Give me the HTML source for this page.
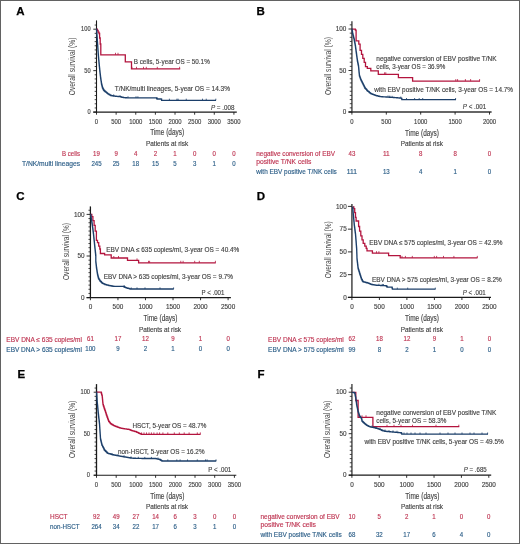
<!DOCTYPE html>
<html><head><meta charset="utf-8"><style>
html,body{margin:0;padding:0;background:#fff;}
svg{display:block;font-family:"Liberation Sans", sans-serif;will-change:transform;}
</style></head><body>
<svg width="520" height="544" viewBox="0 0 520 544" fill="#444444">
<rect x="0" y="0" width="520" height="544" fill="#fff"/>
<text x="16.20" y="14.66" font-size="11.5" fill="#000" font-weight="bold" stroke="#000" stroke-width="0.25">A</text>
<line x1="96.50" y1="20.40" x2="96.50" y2="112.60" stroke="#1a1a1a" stroke-width="1.1"/>
<line x1="93.30" y1="112.10" x2="236.80" y2="112.10" stroke="#1a1a1a" stroke-width="1.1"/>
<line x1="93.30" y1="112.10" x2="96.50" y2="112.10" stroke="#1a1a1a" stroke-width="0.9"/>
<line x1="93.30" y1="70.65" x2="96.50" y2="70.65" stroke="#1a1a1a" stroke-width="0.9"/>
<line x1="93.30" y1="29.20" x2="96.50" y2="29.20" stroke="#1a1a1a" stroke-width="0.9"/>
<line x1="94.65" y1="107.95" x2="96.50" y2="107.95" stroke="#1a1a1a" stroke-width="0.8"/>
<line x1="94.65" y1="103.81" x2="96.50" y2="103.81" stroke="#1a1a1a" stroke-width="0.8"/>
<line x1="94.65" y1="99.66" x2="96.50" y2="99.66" stroke="#1a1a1a" stroke-width="0.8"/>
<line x1="94.65" y1="95.52" x2="96.50" y2="95.52" stroke="#1a1a1a" stroke-width="0.8"/>
<line x1="94.65" y1="91.38" x2="96.50" y2="91.38" stroke="#1a1a1a" stroke-width="0.8"/>
<line x1="94.65" y1="87.23" x2="96.50" y2="87.23" stroke="#1a1a1a" stroke-width="0.8"/>
<line x1="94.65" y1="83.08" x2="96.50" y2="83.08" stroke="#1a1a1a" stroke-width="0.8"/>
<line x1="94.65" y1="78.94" x2="96.50" y2="78.94" stroke="#1a1a1a" stroke-width="0.8"/>
<line x1="94.65" y1="74.80" x2="96.50" y2="74.80" stroke="#1a1a1a" stroke-width="0.8"/>
<line x1="94.65" y1="66.50" x2="96.50" y2="66.50" stroke="#1a1a1a" stroke-width="0.8"/>
<line x1="94.65" y1="62.36" x2="96.50" y2="62.36" stroke="#1a1a1a" stroke-width="0.8"/>
<line x1="94.65" y1="58.22" x2="96.50" y2="58.22" stroke="#1a1a1a" stroke-width="0.8"/>
<line x1="94.65" y1="54.07" x2="96.50" y2="54.07" stroke="#1a1a1a" stroke-width="0.8"/>
<line x1="94.65" y1="49.93" x2="96.50" y2="49.93" stroke="#1a1a1a" stroke-width="0.8"/>
<line x1="94.65" y1="45.78" x2="96.50" y2="45.78" stroke="#1a1a1a" stroke-width="0.8"/>
<line x1="94.65" y1="41.64" x2="96.50" y2="41.64" stroke="#1a1a1a" stroke-width="0.8"/>
<line x1="94.65" y1="37.49" x2="96.50" y2="37.49" stroke="#1a1a1a" stroke-width="0.8"/>
<line x1="94.65" y1="33.34" x2="96.50" y2="33.34" stroke="#1a1a1a" stroke-width="0.8"/>
<line x1="94.65" y1="25.05" x2="96.50" y2="25.05" stroke="#1a1a1a" stroke-width="0.8"/>
<line x1="96.50" y1="112.10" x2="96.50" y2="114.70" stroke="#1a1a1a" stroke-width="0.9"/>
<line x1="116.13" y1="112.10" x2="116.13" y2="114.70" stroke="#1a1a1a" stroke-width="0.9"/>
<line x1="135.76" y1="112.10" x2="135.76" y2="114.70" stroke="#1a1a1a" stroke-width="0.9"/>
<line x1="155.39" y1="112.10" x2="155.39" y2="114.70" stroke="#1a1a1a" stroke-width="0.9"/>
<line x1="175.02" y1="112.10" x2="175.02" y2="114.70" stroke="#1a1a1a" stroke-width="0.9"/>
<line x1="194.65" y1="112.10" x2="194.65" y2="114.70" stroke="#1a1a1a" stroke-width="0.9"/>
<line x1="214.28" y1="112.10" x2="214.28" y2="114.70" stroke="#1a1a1a" stroke-width="0.9"/>
<line x1="233.91" y1="112.10" x2="233.91" y2="114.70" stroke="#1a1a1a" stroke-width="0.9"/>
<text x="90.60" y="114.30" font-size="6.4" text-anchor="end" stroke="#444444" stroke-width="0.15" textLength="3.17" lengthAdjust="spacingAndGlyphs">0</text>
<text x="90.60" y="72.85" font-size="6.4" text-anchor="end" stroke="#444444" stroke-width="0.15" textLength="6.34" lengthAdjust="spacingAndGlyphs">50</text>
<text x="90.60" y="31.40" font-size="6.4" text-anchor="end" stroke="#444444" stroke-width="0.15" textLength="9.51" lengthAdjust="spacingAndGlyphs">100</text>
<text x="96.50" y="123.50" font-size="6.4" text-anchor="middle" stroke="#444444" stroke-width="0.15" textLength="3.30" lengthAdjust="spacingAndGlyphs">0</text>
<text x="116.13" y="123.50" font-size="6.4" text-anchor="middle" stroke="#444444" stroke-width="0.15" textLength="9.90" lengthAdjust="spacingAndGlyphs">500</text>
<text x="135.76" y="123.50" font-size="6.4" text-anchor="middle" stroke="#444444" stroke-width="0.15" textLength="13.20" lengthAdjust="spacingAndGlyphs">1000</text>
<text x="155.39" y="123.50" font-size="6.4" text-anchor="middle" stroke="#444444" stroke-width="0.15" textLength="13.20" lengthAdjust="spacingAndGlyphs">1500</text>
<text x="175.02" y="123.50" font-size="6.4" text-anchor="middle" stroke="#444444" stroke-width="0.15" textLength="13.20" lengthAdjust="spacingAndGlyphs">2000</text>
<text x="194.65" y="123.50" font-size="6.4" text-anchor="middle" stroke="#444444" stroke-width="0.15" textLength="13.20" lengthAdjust="spacingAndGlyphs">2500</text>
<text x="214.28" y="123.50" font-size="6.4" text-anchor="middle" stroke="#444444" stroke-width="0.15" textLength="13.20" lengthAdjust="spacingAndGlyphs">3000</text>
<text x="233.91" y="123.50" font-size="6.4" text-anchor="middle" stroke="#444444" stroke-width="0.15" textLength="13.20" lengthAdjust="spacingAndGlyphs">3500</text>
<text transform="translate(75.00,66.40) rotate(-90)" x="0" y="0" font-size="9.2" text-anchor="middle" textLength="57.60" lengthAdjust="spacingAndGlyphs">Overall survival (%)</text>
<path d="M96.50,29.20H97.30V30.50H98.10V32.20H99.00V33.50H99.60V38.00H100.20V44.00H100.80V54.80H125.30V61.90H131.50V68.80H180.20V68.80" fill="none" stroke="#b3143e" stroke-width="1.3" stroke-linejoin="miter"/>
<line x1="115.50" y1="54.80" x2="115.50" y2="52.80" stroke="#b3143e" stroke-width="0.8"/>
<line x1="118.00" y1="54.80" x2="118.00" y2="52.80" stroke="#b3143e" stroke-width="0.8"/>
<line x1="131.90" y1="68.80" x2="131.90" y2="66.80" stroke="#b3143e" stroke-width="0.8"/>
<line x1="136.50" y1="68.80" x2="136.50" y2="66.80" stroke="#b3143e" stroke-width="0.8"/>
<line x1="143.50" y1="68.80" x2="143.50" y2="66.80" stroke="#b3143e" stroke-width="0.8"/>
<line x1="146.30" y1="68.80" x2="146.30" y2="66.80" stroke="#b3143e" stroke-width="0.8"/>
<line x1="157.30" y1="68.80" x2="157.30" y2="66.80" stroke="#b3143e" stroke-width="0.8"/>
<line x1="179.60" y1="68.80" x2="179.60" y2="66.80" stroke="#b3143e" stroke-width="0.8"/>
<path d="M96.50,29.20H96.58V30.33H96.67V31.47H96.75V32.60H96.83V33.73H96.92V34.87H97.00V36.00H97.08V37.12H97.15V38.25H97.22V39.38H97.30V40.50H97.38V41.62H97.45V42.75H97.52V43.88H97.60V45.00H97.68V46.11H97.76V47.22H97.83V48.33H97.91V49.44H97.99V50.56H98.07V51.67H98.14V52.78H98.22V53.89H98.30V55.00H98.40V56.14H98.50V57.29H98.60V58.43H98.70V59.57H98.80V60.71H98.90V61.86H99.00V63.00H99.11V64.14H99.23V65.29H99.34V66.43H99.46V67.57H99.57V68.71H99.69V69.86H99.80V71.00H99.93V72.17H100.07V73.33H100.20V74.50H100.33V75.67H100.47V76.83H100.60V78.00H100.78V79.20H100.96V80.40H101.14V81.60H101.32V82.80H101.50V84.00H101.75V85.00H102.00V86.00H102.25V87.00H102.50V88.00H103.00V89.00H103.50V90.00H104.00V90.50H104.50V91.00H105.00V91.50H105.58V91.96H106.16V92.42H106.74V92.88H107.32V93.34H107.90V93.80H108.48V94.14H109.06V94.48H109.64V94.82H110.22V95.16H110.80V95.50H111.48V95.62H112.16V95.74H112.84V95.86H113.52V95.98H114.20V96.10H114.84V96.17H115.49V96.23H116.13V96.30H116.78V96.37H117.42V96.43H118.07V96.50H118.71V96.57H119.36V96.63H120.00V96.70H120.70V96.88H121.40V97.06H122.10V97.24H122.80V97.42H123.50V97.60H124.14V97.64H124.79V97.69H125.43V97.73H126.07V97.77H126.71V97.81H127.36V97.86H128.00V97.90H156.20V97.90H156.60V98.45H157.00V99.00H161.00V99.20H161.60V100.30H216.00V100.30" fill="none" stroke="#1c3f6a" stroke-width="1.3" stroke-linejoin="miter"/>
<line x1="113.70" y1="95.98" x2="113.70" y2="94.38" stroke="#1c3f6a" stroke-width="0.8"/>
<line x1="120.00" y1="96.70" x2="120.00" y2="95.10" stroke="#1c3f6a" stroke-width="0.8"/>
<line x1="128.00" y1="97.90" x2="128.00" y2="96.30" stroke="#1c3f6a" stroke-width="0.8"/>
<line x1="136.00" y1="97.90" x2="136.00" y2="96.30" stroke="#1c3f6a" stroke-width="0.8"/>
<line x1="137.90" y1="97.90" x2="137.90" y2="96.30" stroke="#1c3f6a" stroke-width="0.8"/>
<line x1="157.00" y1="99.00" x2="157.00" y2="97.40" stroke="#1c3f6a" stroke-width="0.8"/>
<line x1="169.40" y1="100.30" x2="169.40" y2="98.70" stroke="#1c3f6a" stroke-width="0.8"/>
<line x1="176.90" y1="100.30" x2="176.90" y2="98.70" stroke="#1c3f6a" stroke-width="0.8"/>
<line x1="178.10" y1="100.30" x2="178.10" y2="98.70" stroke="#1c3f6a" stroke-width="0.8"/>
<line x1="186.25" y1="100.30" x2="186.25" y2="98.70" stroke="#1c3f6a" stroke-width="0.8"/>
<line x1="202.50" y1="100.30" x2="202.50" y2="98.70" stroke="#1c3f6a" stroke-width="0.8"/>
<line x1="206.25" y1="100.30" x2="206.25" y2="98.70" stroke="#1c3f6a" stroke-width="0.8"/>
<line x1="215.80" y1="100.30" x2="215.80" y2="98.70" stroke="#1c3f6a" stroke-width="0.8"/>
<text x="133.75" y="64.24" font-size="6.5" stroke="#444444" stroke-width="0.15" textLength="76.00" lengthAdjust="spacingAndGlyphs">B cells, 5-year OS = 50.1%</text>
<text x="114.80" y="91.44" font-size="6.5" stroke="#444444" stroke-width="0.15" textLength="115.20" lengthAdjust="spacingAndGlyphs">T/NK/multi lineages, 5-year OS = 14.3%</text>
<text x="234.40" y="109.50" font-size="6.4" text-anchor="end" stroke="#444444" stroke-width="0.15" textLength="23.50" lengthAdjust="spacingAndGlyphs"><tspan font-style="italic">P</tspan> = .008</text>
<text x="167.20" y="135.46" font-size="8.6" text-anchor="middle" stroke="#444444" stroke-width="0.15" textLength="34.00" lengthAdjust="spacingAndGlyphs">Time (days)</text>
<text x="167.10" y="145.94" font-size="6.8" text-anchor="middle" stroke="#444444" stroke-width="0.15" textLength="42.20" lengthAdjust="spacingAndGlyphs">Patients at risk</text>
<text x="80.00" y="155.94" font-size="6.5" text-anchor="end" fill="#bf3653" stroke="#bf3653" stroke-width="0.15" textLength="18.00" lengthAdjust="spacingAndGlyphs">B cells</text>
<text x="80.00" y="165.94" font-size="6.5" text-anchor="end" fill="#2d5f88" stroke="#2d5f88" stroke-width="0.15" textLength="58.00" lengthAdjust="spacingAndGlyphs">T/NK/multi lineages</text>
<text x="96.50" y="155.87" font-size="6.3" text-anchor="middle" fill="#bf3653" stroke="#bf3653" stroke-width="0.15" textLength="6.80" lengthAdjust="spacingAndGlyphs">19</text>
<text x="116.13" y="155.87" font-size="6.3" text-anchor="middle" fill="#bf3653" stroke="#bf3653" stroke-width="0.15" textLength="3.40" lengthAdjust="spacingAndGlyphs">9</text>
<text x="135.76" y="155.87" font-size="6.3" text-anchor="middle" fill="#bf3653" stroke="#bf3653" stroke-width="0.15" textLength="3.40" lengthAdjust="spacingAndGlyphs">4</text>
<text x="155.39" y="155.87" font-size="6.3" text-anchor="middle" fill="#bf3653" stroke="#bf3653" stroke-width="0.15" textLength="3.40" lengthAdjust="spacingAndGlyphs">2</text>
<text x="175.02" y="155.87" font-size="6.3" text-anchor="middle" fill="#bf3653" stroke="#bf3653" stroke-width="0.15" textLength="3.40" lengthAdjust="spacingAndGlyphs">1</text>
<text x="194.65" y="155.87" font-size="6.3" text-anchor="middle" fill="#bf3653" stroke="#bf3653" stroke-width="0.15" textLength="3.40" lengthAdjust="spacingAndGlyphs">0</text>
<text x="214.28" y="155.87" font-size="6.3" text-anchor="middle" fill="#bf3653" stroke="#bf3653" stroke-width="0.15" textLength="3.40" lengthAdjust="spacingAndGlyphs">0</text>
<text x="233.91" y="155.87" font-size="6.3" text-anchor="middle" fill="#bf3653" stroke="#bf3653" stroke-width="0.15" textLength="3.40" lengthAdjust="spacingAndGlyphs">0</text>
<text x="96.50" y="165.87" font-size="6.3" text-anchor="middle" fill="#2d5f88" stroke="#2d5f88" stroke-width="0.15" textLength="10.20" lengthAdjust="spacingAndGlyphs">245</text>
<text x="116.13" y="165.87" font-size="6.3" text-anchor="middle" fill="#2d5f88" stroke="#2d5f88" stroke-width="0.15" textLength="6.80" lengthAdjust="spacingAndGlyphs">25</text>
<text x="135.76" y="165.87" font-size="6.3" text-anchor="middle" fill="#2d5f88" stroke="#2d5f88" stroke-width="0.15" textLength="6.80" lengthAdjust="spacingAndGlyphs">18</text>
<text x="155.39" y="165.87" font-size="6.3" text-anchor="middle" fill="#2d5f88" stroke="#2d5f88" stroke-width="0.15" textLength="6.80" lengthAdjust="spacingAndGlyphs">15</text>
<text x="175.02" y="165.87" font-size="6.3" text-anchor="middle" fill="#2d5f88" stroke="#2d5f88" stroke-width="0.15" textLength="3.40" lengthAdjust="spacingAndGlyphs">5</text>
<text x="194.65" y="165.87" font-size="6.3" text-anchor="middle" fill="#2d5f88" stroke="#2d5f88" stroke-width="0.15" textLength="3.40" lengthAdjust="spacingAndGlyphs">3</text>
<text x="214.28" y="165.87" font-size="6.3" text-anchor="middle" fill="#2d5f88" stroke="#2d5f88" stroke-width="0.15" textLength="3.40" lengthAdjust="spacingAndGlyphs">1</text>
<text x="233.91" y="165.87" font-size="6.3" text-anchor="middle" fill="#2d5f88" stroke="#2d5f88" stroke-width="0.15" textLength="3.40" lengthAdjust="spacingAndGlyphs">0</text>
<text x="256.60" y="14.51" font-size="11.5" fill="#000" font-weight="bold" stroke="#000" stroke-width="0.25">B</text>
<line x1="351.90" y1="21.20" x2="351.90" y2="112.50" stroke="#666" stroke-width="1.7"/>
<line x1="348.50" y1="112.00" x2="491.60" y2="112.00" stroke="#333" stroke-width="1.6"/>
<line x1="348.50" y1="112.00" x2="351.90" y2="112.00" stroke="#1a1a1a" stroke-width="0.9"/>
<line x1="348.50" y1="70.50" x2="351.90" y2="70.50" stroke="#1a1a1a" stroke-width="0.9"/>
<line x1="348.50" y1="29.00" x2="351.90" y2="29.00" stroke="#1a1a1a" stroke-width="0.9"/>
<line x1="349.75" y1="107.85" x2="351.90" y2="107.85" stroke="#1a1a1a" stroke-width="0.8"/>
<line x1="349.75" y1="103.70" x2="351.90" y2="103.70" stroke="#1a1a1a" stroke-width="0.8"/>
<line x1="349.75" y1="99.55" x2="351.90" y2="99.55" stroke="#1a1a1a" stroke-width="0.8"/>
<line x1="349.75" y1="95.40" x2="351.90" y2="95.40" stroke="#1a1a1a" stroke-width="0.8"/>
<line x1="349.75" y1="91.25" x2="351.90" y2="91.25" stroke="#1a1a1a" stroke-width="0.8"/>
<line x1="349.75" y1="87.10" x2="351.90" y2="87.10" stroke="#1a1a1a" stroke-width="0.8"/>
<line x1="349.75" y1="82.95" x2="351.90" y2="82.95" stroke="#1a1a1a" stroke-width="0.8"/>
<line x1="349.75" y1="78.80" x2="351.90" y2="78.80" stroke="#1a1a1a" stroke-width="0.8"/>
<line x1="349.75" y1="74.65" x2="351.90" y2="74.65" stroke="#1a1a1a" stroke-width="0.8"/>
<line x1="349.75" y1="66.35" x2="351.90" y2="66.35" stroke="#1a1a1a" stroke-width="0.8"/>
<line x1="349.75" y1="62.20" x2="351.90" y2="62.20" stroke="#1a1a1a" stroke-width="0.8"/>
<line x1="349.75" y1="58.05" x2="351.90" y2="58.05" stroke="#1a1a1a" stroke-width="0.8"/>
<line x1="349.75" y1="53.90" x2="351.90" y2="53.90" stroke="#1a1a1a" stroke-width="0.8"/>
<line x1="349.75" y1="49.75" x2="351.90" y2="49.75" stroke="#1a1a1a" stroke-width="0.8"/>
<line x1="349.75" y1="45.60" x2="351.90" y2="45.60" stroke="#1a1a1a" stroke-width="0.8"/>
<line x1="349.75" y1="41.45" x2="351.90" y2="41.45" stroke="#1a1a1a" stroke-width="0.8"/>
<line x1="349.75" y1="37.30" x2="351.90" y2="37.30" stroke="#1a1a1a" stroke-width="0.8"/>
<line x1="349.75" y1="33.15" x2="351.90" y2="33.15" stroke="#1a1a1a" stroke-width="0.8"/>
<line x1="349.75" y1="24.85" x2="351.90" y2="24.85" stroke="#1a1a1a" stroke-width="0.8"/>
<line x1="351.90" y1="112.00" x2="351.90" y2="114.60" stroke="#1a1a1a" stroke-width="0.9"/>
<line x1="386.30" y1="112.00" x2="386.30" y2="114.60" stroke="#1a1a1a" stroke-width="0.9"/>
<line x1="420.70" y1="112.00" x2="420.70" y2="114.60" stroke="#1a1a1a" stroke-width="0.9"/>
<line x1="455.10" y1="112.00" x2="455.10" y2="114.60" stroke="#1a1a1a" stroke-width="0.9"/>
<line x1="489.50" y1="112.00" x2="489.50" y2="114.60" stroke="#1a1a1a" stroke-width="0.9"/>
<text x="346.40" y="114.20" font-size="6.4" text-anchor="end" stroke="#444444" stroke-width="0.15" textLength="3.55" lengthAdjust="spacingAndGlyphs">0</text>
<text x="346.40" y="72.70" font-size="6.4" text-anchor="end" stroke="#444444" stroke-width="0.15" textLength="7.10" lengthAdjust="spacingAndGlyphs">50</text>
<text x="346.40" y="31.20" font-size="6.4" text-anchor="end" stroke="#444444" stroke-width="0.15" textLength="10.65" lengthAdjust="spacingAndGlyphs">100</text>
<text x="351.90" y="123.70" font-size="6.4" text-anchor="middle" stroke="#444444" stroke-width="0.15" textLength="3.30" lengthAdjust="spacingAndGlyphs">0</text>
<text x="386.30" y="123.70" font-size="6.4" text-anchor="middle" stroke="#444444" stroke-width="0.15" textLength="9.90" lengthAdjust="spacingAndGlyphs">500</text>
<text x="420.70" y="123.70" font-size="6.4" text-anchor="middle" stroke="#444444" stroke-width="0.15" textLength="13.20" lengthAdjust="spacingAndGlyphs">1000</text>
<text x="455.10" y="123.70" font-size="6.4" text-anchor="middle" stroke="#444444" stroke-width="0.15" textLength="13.20" lengthAdjust="spacingAndGlyphs">1500</text>
<text x="489.50" y="123.70" font-size="6.4" text-anchor="middle" stroke="#444444" stroke-width="0.15" textLength="13.20" lengthAdjust="spacingAndGlyphs">2000</text>
<text transform="translate(331.00,66.00) rotate(-90)" x="0" y="0" font-size="9.2" text-anchor="middle" textLength="58.00" lengthAdjust="spacingAndGlyphs">Overall survival (%)</text>
<path d="M352.00,29.20H355.40V30.10H356.10V40.80H358.80V44.20H360.10V50.30H361.50V54.30H362.80V58.30H364.20V62.40H365.50V66.60H367.30V68.30H370.80V70.80H378.30V74.30H398.40V77.60H412.60V81.10H480.00V81.10" fill="none" stroke="#b3143e" stroke-width="1.3" stroke-linejoin="miter"/>
<line x1="384.60" y1="74.30" x2="384.60" y2="72.30" stroke="#b3143e" stroke-width="0.8"/>
<line x1="385.80" y1="74.30" x2="385.80" y2="72.30" stroke="#b3143e" stroke-width="0.8"/>
<line x1="455.80" y1="81.10" x2="455.80" y2="79.10" stroke="#b3143e" stroke-width="0.8"/>
<line x1="457.60" y1="81.10" x2="457.60" y2="79.10" stroke="#b3143e" stroke-width="0.8"/>
<line x1="465.40" y1="81.10" x2="465.40" y2="79.10" stroke="#b3143e" stroke-width="0.8"/>
<line x1="470.60" y1="81.10" x2="470.60" y2="79.10" stroke="#b3143e" stroke-width="0.8"/>
<line x1="479.60" y1="81.10" x2="479.60" y2="79.10" stroke="#b3143e" stroke-width="0.8"/>
<path d="M352.00,29.20H352.14V30.16H352.28V31.12H352.42V32.08H352.56V33.04H352.70V34.00H352.98V35.10H353.26V36.20H353.54V37.30H353.82V38.40H354.10V39.50H354.32V40.62H354.53V41.73H354.75V42.85H354.97V43.97H355.18V45.08H355.40V46.20H355.54V47.28H355.68V48.36H355.82V49.44H355.96V50.52H356.10V51.60H356.26V52.77H356.43V53.95H356.59V55.12H356.75V56.30H356.91V57.48H357.07V58.65H357.24V59.83H357.40V61.00H357.62V62.08H357.84V63.16H358.06V64.24H358.28V65.32H358.50V66.40H358.61V67.58H358.73V68.75H358.84V69.92H358.95V71.10H359.06V72.28H359.17V73.45H359.29V74.62H359.40V75.80H359.75V76.83H360.10V77.85H360.45V78.88H360.80V79.90H361.30V80.90H361.80V81.90H362.30V82.90H362.80V83.90H363.30V84.93H363.80V85.95H364.30V86.97H364.80V88.00H365.43V88.70H366.05V89.40H366.68V90.10H367.30V90.80H368.00V91.38H368.70V91.96H369.40V92.54H370.10V93.12H370.80V93.70H371.46V93.94H372.11V94.19H372.77V94.43H373.43V94.67H374.09V94.91H374.74V95.16H375.40V95.40H376.06V95.57H376.71V95.74H377.37V95.91H378.03V96.09H378.69V96.26H379.34V96.43H380.00V96.60H380.67V96.65H381.34V96.69H382.01V96.74H382.68V96.78H383.35V96.83H384.02V96.88H384.70V96.92H385.37V96.97H386.04V97.01H386.71V97.06H387.38V97.10H388.05V97.15H388.72V97.20H389.39V97.24H390.06V97.29H390.73V97.33H391.40V97.38H392.08V97.42H392.75V97.47H393.42V97.52H394.09V97.56H394.76V97.61H395.43V97.65H396.10V97.70H396.75V97.76H397.40V97.83H398.05V97.89H398.70V97.95H399.35V98.01H400.00V98.08H400.65V98.14H401.30V98.20H401.60V98.90H401.90V99.60H456.00V99.60" fill="none" stroke="#1c3f6a" stroke-width="1.3" stroke-linejoin="miter"/>
<line x1="388.00" y1="97.10" x2="388.00" y2="95.50" stroke="#1c3f6a" stroke-width="0.8"/>
<line x1="389.80" y1="97.24" x2="389.80" y2="95.64" stroke="#1c3f6a" stroke-width="0.8"/>
<line x1="392.10" y1="97.42" x2="392.10" y2="95.83" stroke="#1c3f6a" stroke-width="0.8"/>
<line x1="400.80" y1="98.14" x2="400.80" y2="96.54" stroke="#1c3f6a" stroke-width="0.8"/>
<line x1="406.50" y1="99.60" x2="406.50" y2="98.00" stroke="#1c3f6a" stroke-width="0.8"/>
<line x1="414.60" y1="99.60" x2="414.60" y2="98.00" stroke="#1c3f6a" stroke-width="0.8"/>
<line x1="419.20" y1="99.60" x2="419.20" y2="98.00" stroke="#1c3f6a" stroke-width="0.8"/>
<line x1="422.70" y1="99.60" x2="422.70" y2="98.00" stroke="#1c3f6a" stroke-width="0.8"/>
<line x1="455.60" y1="99.60" x2="455.60" y2="98.00" stroke="#1c3f6a" stroke-width="0.8"/>
<text x="376.30" y="60.54" font-size="6.5" stroke="#444444" stroke-width="0.15" textLength="120.20" lengthAdjust="spacingAndGlyphs">negative conversion of EBV positive T/NK</text>
<text x="376.30" y="68.54" font-size="6.5" stroke="#444444" stroke-width="0.15" textLength="69.00" lengthAdjust="spacingAndGlyphs">cells, 3-year OS = 36.9%</text>
<text x="374.30" y="91.74" font-size="6.5" stroke="#444444" stroke-width="0.15" textLength="138.70" lengthAdjust="spacingAndGlyphs">with EBV positive T/NK cells, 3-year OS = 14.7%</text>
<text x="486.10" y="109.40" font-size="6.4" text-anchor="end" stroke="#444444" stroke-width="0.15" textLength="23.30" lengthAdjust="spacingAndGlyphs"><tspan font-style="italic">P</tspan> &lt; .001</text>
<text x="422.00" y="135.56" font-size="8.6" text-anchor="middle" stroke="#444444" stroke-width="0.15" textLength="34.00" lengthAdjust="spacingAndGlyphs">Time (days)</text>
<text x="421.80" y="145.94" font-size="6.8" text-anchor="middle" stroke="#444444" stroke-width="0.15" textLength="42.20" lengthAdjust="spacingAndGlyphs">Patients at risk</text>
<text x="256.30" y="156.24" font-size="6.5" fill="#bf3653" stroke="#bf3653" stroke-width="0.15" textLength="78.70" lengthAdjust="spacingAndGlyphs">negative conversion of EBV</text>
<text x="256.30" y="164.24" font-size="6.5" fill="#bf3653" stroke="#bf3653" stroke-width="0.15" textLength="55.00" lengthAdjust="spacingAndGlyphs">positive T/NK cells</text>
<text x="256.30" y="174.04" font-size="6.5" fill="#2d5f88" stroke="#2d5f88" stroke-width="0.15" textLength="80.50" lengthAdjust="spacingAndGlyphs">with EBV positive T/NK cells</text>
<text x="351.90" y="155.97" font-size="6.3" text-anchor="middle" fill="#bf3653" stroke="#bf3653" stroke-width="0.15" textLength="6.80" lengthAdjust="spacingAndGlyphs">43</text>
<text x="386.30" y="155.97" font-size="6.3" text-anchor="middle" fill="#bf3653" stroke="#bf3653" stroke-width="0.15" textLength="6.80" lengthAdjust="spacingAndGlyphs">11</text>
<text x="420.70" y="155.97" font-size="6.3" text-anchor="middle" fill="#bf3653" stroke="#bf3653" stroke-width="0.15" textLength="3.40" lengthAdjust="spacingAndGlyphs">8</text>
<text x="455.10" y="155.97" font-size="6.3" text-anchor="middle" fill="#bf3653" stroke="#bf3653" stroke-width="0.15" textLength="3.40" lengthAdjust="spacingAndGlyphs">8</text>
<text x="489.50" y="155.97" font-size="6.3" text-anchor="middle" fill="#bf3653" stroke="#bf3653" stroke-width="0.15" textLength="3.40" lengthAdjust="spacingAndGlyphs">0</text>
<text x="351.90" y="173.97" font-size="6.3" text-anchor="middle" fill="#2d5f88" stroke="#2d5f88" stroke-width="0.15" textLength="10.20" lengthAdjust="spacingAndGlyphs">111</text>
<text x="386.30" y="173.97" font-size="6.3" text-anchor="middle" fill="#2d5f88" stroke="#2d5f88" stroke-width="0.15" textLength="6.80" lengthAdjust="spacingAndGlyphs">13</text>
<text x="420.70" y="173.97" font-size="6.3" text-anchor="middle" fill="#2d5f88" stroke="#2d5f88" stroke-width="0.15" textLength="3.40" lengthAdjust="spacingAndGlyphs">4</text>
<text x="455.10" y="173.97" font-size="6.3" text-anchor="middle" fill="#2d5f88" stroke="#2d5f88" stroke-width="0.15" textLength="3.40" lengthAdjust="spacingAndGlyphs">1</text>
<text x="489.50" y="173.97" font-size="6.3" text-anchor="middle" fill="#2d5f88" stroke="#2d5f88" stroke-width="0.15" textLength="3.40" lengthAdjust="spacingAndGlyphs">0</text>
<text x="16.20" y="200.16" font-size="11.5" fill="#000" font-weight="bold" stroke="#000" stroke-width="0.25">C</text>
<line x1="90.40" y1="206.40" x2="90.40" y2="298.10" stroke="#1a1a1a" stroke-width="1.3"/>
<line x1="86.60" y1="297.60" x2="230.90" y2="297.60" stroke="#1a1a1a" stroke-width="1.1"/>
<line x1="86.60" y1="297.60" x2="90.40" y2="297.60" stroke="#1a1a1a" stroke-width="0.9"/>
<line x1="86.60" y1="256.00" x2="90.40" y2="256.00" stroke="#1a1a1a" stroke-width="0.9"/>
<line x1="86.60" y1="214.40" x2="90.40" y2="214.40" stroke="#1a1a1a" stroke-width="0.9"/>
<line x1="88.45" y1="293.44" x2="90.40" y2="293.44" stroke="#1a1a1a" stroke-width="0.8"/>
<line x1="88.45" y1="289.28" x2="90.40" y2="289.28" stroke="#1a1a1a" stroke-width="0.8"/>
<line x1="88.45" y1="285.12" x2="90.40" y2="285.12" stroke="#1a1a1a" stroke-width="0.8"/>
<line x1="88.45" y1="280.96" x2="90.40" y2="280.96" stroke="#1a1a1a" stroke-width="0.8"/>
<line x1="88.45" y1="276.80" x2="90.40" y2="276.80" stroke="#1a1a1a" stroke-width="0.8"/>
<line x1="88.45" y1="272.64" x2="90.40" y2="272.64" stroke="#1a1a1a" stroke-width="0.8"/>
<line x1="88.45" y1="268.48" x2="90.40" y2="268.48" stroke="#1a1a1a" stroke-width="0.8"/>
<line x1="88.45" y1="264.32" x2="90.40" y2="264.32" stroke="#1a1a1a" stroke-width="0.8"/>
<line x1="88.45" y1="260.16" x2="90.40" y2="260.16" stroke="#1a1a1a" stroke-width="0.8"/>
<line x1="88.45" y1="251.84" x2="90.40" y2="251.84" stroke="#1a1a1a" stroke-width="0.8"/>
<line x1="88.45" y1="247.68" x2="90.40" y2="247.68" stroke="#1a1a1a" stroke-width="0.8"/>
<line x1="88.45" y1="243.52" x2="90.40" y2="243.52" stroke="#1a1a1a" stroke-width="0.8"/>
<line x1="88.45" y1="239.36" x2="90.40" y2="239.36" stroke="#1a1a1a" stroke-width="0.8"/>
<line x1="88.45" y1="235.20" x2="90.40" y2="235.20" stroke="#1a1a1a" stroke-width="0.8"/>
<line x1="88.45" y1="231.04" x2="90.40" y2="231.04" stroke="#1a1a1a" stroke-width="0.8"/>
<line x1="88.45" y1="226.88" x2="90.40" y2="226.88" stroke="#1a1a1a" stroke-width="0.8"/>
<line x1="88.45" y1="222.72" x2="90.40" y2="222.72" stroke="#1a1a1a" stroke-width="0.8"/>
<line x1="88.45" y1="218.56" x2="90.40" y2="218.56" stroke="#1a1a1a" stroke-width="0.8"/>
<line x1="88.45" y1="210.24" x2="90.40" y2="210.24" stroke="#1a1a1a" stroke-width="0.8"/>
<line x1="90.40" y1="297.60" x2="90.40" y2="300.20" stroke="#1a1a1a" stroke-width="0.9"/>
<line x1="117.94" y1="297.60" x2="117.94" y2="300.20" stroke="#1a1a1a" stroke-width="0.9"/>
<line x1="145.48" y1="297.60" x2="145.48" y2="300.20" stroke="#1a1a1a" stroke-width="0.9"/>
<line x1="173.02" y1="297.60" x2="173.02" y2="300.20" stroke="#1a1a1a" stroke-width="0.9"/>
<line x1="200.56" y1="297.60" x2="200.56" y2="300.20" stroke="#1a1a1a" stroke-width="0.9"/>
<line x1="228.10" y1="297.60" x2="228.10" y2="300.20" stroke="#1a1a1a" stroke-width="0.9"/>
<text x="84.60" y="299.80" font-size="6.4" text-anchor="end" stroke="#444444" stroke-width="0.15" textLength="3.55" lengthAdjust="spacingAndGlyphs">0</text>
<text x="84.60" y="258.20" font-size="6.4" text-anchor="end" stroke="#444444" stroke-width="0.15" textLength="7.10" lengthAdjust="spacingAndGlyphs">50</text>
<text x="84.60" y="216.60" font-size="6.4" text-anchor="end" stroke="#444444" stroke-width="0.15" textLength="10.65" lengthAdjust="spacingAndGlyphs">100</text>
<text x="90.40" y="308.60" font-size="6.4" text-anchor="middle" stroke="#444444" stroke-width="0.15" textLength="3.55" lengthAdjust="spacingAndGlyphs">0</text>
<text x="117.94" y="308.60" font-size="6.4" text-anchor="middle" stroke="#444444" stroke-width="0.15" textLength="10.65" lengthAdjust="spacingAndGlyphs">500</text>
<text x="145.48" y="308.60" font-size="6.4" text-anchor="middle" stroke="#444444" stroke-width="0.15" textLength="14.20" lengthAdjust="spacingAndGlyphs">1000</text>
<text x="173.02" y="308.60" font-size="6.4" text-anchor="middle" stroke="#444444" stroke-width="0.15" textLength="14.20" lengthAdjust="spacingAndGlyphs">1500</text>
<text x="200.56" y="308.60" font-size="6.4" text-anchor="middle" stroke="#444444" stroke-width="0.15" textLength="14.20" lengthAdjust="spacingAndGlyphs">2000</text>
<text x="228.10" y="308.60" font-size="6.4" text-anchor="middle" stroke="#444444" stroke-width="0.15" textLength="14.20" lengthAdjust="spacingAndGlyphs">2500</text>
<text transform="translate(69.00,251.50) rotate(-90)" x="0" y="0" font-size="9.2" text-anchor="middle" textLength="57.00" lengthAdjust="spacingAndGlyphs">Overall survival (%)</text>
<path d="M90.60,214.30H91.80V216.70H92.90V220.70H94.10V225.30H95.20V231.10H96.40V240.30H97.50V242.60H98.70V246.10H99.80V249.00H100.40V253.50H104.60V254.90H111.20V258.00H127.50V260.40H138.60V262.80H215.75V262.80" fill="none" stroke="#b3143e" stroke-width="1.3" stroke-linejoin="miter"/>
<line x1="113.80" y1="258.00" x2="113.80" y2="256.00" stroke="#b3143e" stroke-width="0.8"/>
<line x1="118.50" y1="258.00" x2="118.50" y2="256.00" stroke="#b3143e" stroke-width="0.8"/>
<line x1="137.00" y1="260.40" x2="137.00" y2="258.40" stroke="#b3143e" stroke-width="0.8"/>
<line x1="148.50" y1="262.80" x2="148.50" y2="260.80" stroke="#b3143e" stroke-width="0.8"/>
<line x1="149.60" y1="262.80" x2="149.60" y2="260.80" stroke="#b3143e" stroke-width="0.8"/>
<line x1="180.80" y1="262.80" x2="180.80" y2="260.80" stroke="#b3143e" stroke-width="0.8"/>
<line x1="183.10" y1="262.80" x2="183.10" y2="260.80" stroke="#b3143e" stroke-width="0.8"/>
<line x1="194.70" y1="262.80" x2="194.70" y2="260.80" stroke="#b3143e" stroke-width="0.8"/>
<line x1="199.30" y1="262.80" x2="199.30" y2="260.80" stroke="#b3143e" stroke-width="0.8"/>
<line x1="215.40" y1="262.80" x2="215.40" y2="260.80" stroke="#b3143e" stroke-width="0.8"/>
<path d="M90.60,214.30H90.75V215.33H90.90V216.35H91.05V217.38H91.20V218.40H91.38V219.55H91.57V220.70H91.75V221.85H91.93V223.00H92.12V224.15H92.30V225.30H92.45V226.45H92.60V227.60H92.75V228.75H92.90V229.90H93.05V231.05H93.20V232.20H93.35V233.35H93.50V234.50H93.62V235.66H93.74V236.82H93.86V237.98H93.98V239.14H94.10V240.30H94.22V241.46H94.34V242.62H94.46V243.78H94.58V244.94H94.70V246.10H94.82V247.24H94.94V248.39H95.07V249.53H95.19V250.68H95.31V251.82H95.43V252.97H95.56V254.11H95.68V255.26H95.80V256.40H95.80V261.90H95.92V262.92H96.03V263.93H96.15V264.95H96.27V265.97H96.38V266.98H96.50V268.00H96.67V269.08H96.83V270.17H97.00V271.25H97.17V272.33H97.33V273.42H97.50V274.50H97.75V275.50H98.00V276.50H98.25V277.50H98.50V278.50H99.00V279.33H99.50V280.17H100.00V281.00H100.67V281.67H101.33V282.33H102.00V283.00H102.60V283.30H103.20V283.60H103.80V283.90H104.40V284.20H105.00V284.50H105.67V284.67H106.33V284.83H107.00V285.00H107.67V285.17H108.33V285.33H109.00V285.50H109.67V285.63H110.34V285.76H111.01V285.89H111.69V286.01H112.36V286.14H113.03V286.27H113.70V286.40H122.90V286.40H123.60V286.70H124.30V287.00H125.00V287.30H125.70V287.60H126.40V287.90H127.07V288.08H127.73V288.27H128.40V288.45H129.07V288.63H129.73V288.82H130.40V289.00H173.75V289.00" fill="none" stroke="#1c3f6a" stroke-width="1.3" stroke-linejoin="miter"/>
<line x1="124.20" y1="286.70" x2="124.20" y2="285.10" stroke="#1c3f6a" stroke-width="0.8"/>
<line x1="131.20" y1="289.00" x2="131.20" y2="287.40" stroke="#1c3f6a" stroke-width="0.8"/>
<line x1="137.00" y1="289.00" x2="137.00" y2="287.40" stroke="#1c3f6a" stroke-width="0.8"/>
<line x1="145.00" y1="289.00" x2="145.00" y2="287.40" stroke="#1c3f6a" stroke-width="0.8"/>
<line x1="160.00" y1="289.00" x2="160.00" y2="287.40" stroke="#1c3f6a" stroke-width="0.8"/>
<line x1="173.60" y1="289.00" x2="173.60" y2="287.40" stroke="#1c3f6a" stroke-width="0.8"/>
<text x="106.30" y="251.54" font-size="6.5" stroke="#444444" stroke-width="0.15" textLength="133.00" lengthAdjust="spacingAndGlyphs">EBV DNA ≤ 635 copies/ml, 3-year OS = 40.4%</text>
<text x="103.80" y="279.04" font-size="6.5" stroke="#444444" stroke-width="0.15" textLength="129.20" lengthAdjust="spacingAndGlyphs">EBV DNA &gt; 635 copies/ml, 3-year OS = 9.7%</text>
<text x="224.40" y="294.77" font-size="6.6" text-anchor="end" stroke="#444444" stroke-width="0.15" textLength="22.90" lengthAdjust="spacingAndGlyphs">P &lt; .001</text>
<text x="160.50" y="320.96" font-size="8.6" text-anchor="middle" stroke="#444444" stroke-width="0.15" textLength="34.00" lengthAdjust="spacingAndGlyphs">Time (days)</text>
<text x="160.00" y="331.54" font-size="6.8" text-anchor="middle" stroke="#444444" stroke-width="0.15" textLength="42.20" lengthAdjust="spacingAndGlyphs">Patients at risk</text>
<text x="6.30" y="341.54" font-size="6.5" fill="#bf3653" stroke="#bf3653" stroke-width="0.15" textLength="75.70" lengthAdjust="spacingAndGlyphs">EBV DNA ≤ 635 copies/ml</text>
<text x="6.30" y="351.54" font-size="6.5" fill="#2d5f88" stroke="#2d5f88" stroke-width="0.15" textLength="75.70" lengthAdjust="spacingAndGlyphs">EBV DNA &gt; 635 copies/ml</text>
<text x="90.40" y="341.47" font-size="6.3" text-anchor="middle" fill="#bf3653" stroke="#bf3653" stroke-width="0.15" textLength="6.80" lengthAdjust="spacingAndGlyphs">61</text>
<text x="117.94" y="341.47" font-size="6.3" text-anchor="middle" fill="#bf3653" stroke="#bf3653" stroke-width="0.15" textLength="6.80" lengthAdjust="spacingAndGlyphs">17</text>
<text x="145.48" y="341.47" font-size="6.3" text-anchor="middle" fill="#bf3653" stroke="#bf3653" stroke-width="0.15" textLength="6.80" lengthAdjust="spacingAndGlyphs">12</text>
<text x="173.02" y="341.47" font-size="6.3" text-anchor="middle" fill="#bf3653" stroke="#bf3653" stroke-width="0.15" textLength="3.40" lengthAdjust="spacingAndGlyphs">9</text>
<text x="200.56" y="341.47" font-size="6.3" text-anchor="middle" fill="#bf3653" stroke="#bf3653" stroke-width="0.15" textLength="3.40" lengthAdjust="spacingAndGlyphs">1</text>
<text x="228.10" y="341.47" font-size="6.3" text-anchor="middle" fill="#bf3653" stroke="#bf3653" stroke-width="0.15" textLength="3.40" lengthAdjust="spacingAndGlyphs">0</text>
<text x="90.40" y="351.47" font-size="6.3" text-anchor="middle" fill="#2d5f88" stroke="#2d5f88" stroke-width="0.15" textLength="10.20" lengthAdjust="spacingAndGlyphs">100</text>
<text x="117.94" y="351.47" font-size="6.3" text-anchor="middle" fill="#2d5f88" stroke="#2d5f88" stroke-width="0.15" textLength="3.40" lengthAdjust="spacingAndGlyphs">9</text>
<text x="145.48" y="351.47" font-size="6.3" text-anchor="middle" fill="#2d5f88" stroke="#2d5f88" stroke-width="0.15" textLength="3.40" lengthAdjust="spacingAndGlyphs">2</text>
<text x="173.02" y="351.47" font-size="6.3" text-anchor="middle" fill="#2d5f88" stroke="#2d5f88" stroke-width="0.15" textLength="3.40" lengthAdjust="spacingAndGlyphs">1</text>
<text x="200.56" y="351.47" font-size="6.3" text-anchor="middle" fill="#2d5f88" stroke="#2d5f88" stroke-width="0.15" textLength="3.40" lengthAdjust="spacingAndGlyphs">0</text>
<text x="228.10" y="351.47" font-size="6.3" text-anchor="middle" fill="#2d5f88" stroke="#2d5f88" stroke-width="0.15" textLength="3.40" lengthAdjust="spacingAndGlyphs">0</text>
<text x="256.80" y="200.26" font-size="11.5" fill="#000" font-weight="bold" stroke="#000" stroke-width="0.25">D</text>
<line x1="351.90" y1="204.10" x2="351.90" y2="297.90" stroke="#5c5c5c" stroke-width="1.7"/>
<line x1="347.90" y1="297.40" x2="491.00" y2="297.40" stroke="#1a1a1a" stroke-width="1.3"/>
<line x1="347.90" y1="297.40" x2="351.90" y2="297.40" stroke="#1a1a1a" stroke-width="0.9"/>
<line x1="347.90" y1="274.65" x2="351.90" y2="274.65" stroke="#1a1a1a" stroke-width="0.9"/>
<line x1="347.90" y1="251.90" x2="351.90" y2="251.90" stroke="#1a1a1a" stroke-width="0.9"/>
<line x1="347.90" y1="229.15" x2="351.90" y2="229.15" stroke="#1a1a1a" stroke-width="0.9"/>
<line x1="347.90" y1="206.40" x2="351.90" y2="206.40" stroke="#1a1a1a" stroke-width="0.9"/>
<line x1="351.90" y1="297.40" x2="351.90" y2="300.00" stroke="#1a1a1a" stroke-width="0.9"/>
<line x1="379.40" y1="297.40" x2="379.40" y2="300.00" stroke="#1a1a1a" stroke-width="0.9"/>
<line x1="406.90" y1="297.40" x2="406.90" y2="300.00" stroke="#1a1a1a" stroke-width="0.9"/>
<line x1="434.40" y1="297.40" x2="434.40" y2="300.00" stroke="#1a1a1a" stroke-width="0.9"/>
<line x1="461.90" y1="297.40" x2="461.90" y2="300.00" stroke="#1a1a1a" stroke-width="0.9"/>
<line x1="489.40" y1="297.40" x2="489.40" y2="300.00" stroke="#1a1a1a" stroke-width="0.9"/>
<text x="346.70" y="299.60" font-size="6.4" text-anchor="end" stroke="#444444" stroke-width="0.15" textLength="3.55" lengthAdjust="spacingAndGlyphs">0</text>
<text x="346.70" y="276.85" font-size="6.4" text-anchor="end" stroke="#444444" stroke-width="0.15" textLength="7.10" lengthAdjust="spacingAndGlyphs">25</text>
<text x="346.70" y="254.10" font-size="6.4" text-anchor="end" stroke="#444444" stroke-width="0.15" textLength="7.10" lengthAdjust="spacingAndGlyphs">50</text>
<text x="346.70" y="231.35" font-size="6.4" text-anchor="end" stroke="#444444" stroke-width="0.15" textLength="7.10" lengthAdjust="spacingAndGlyphs">75</text>
<text x="346.70" y="208.60" font-size="6.4" text-anchor="end" stroke="#444444" stroke-width="0.15" textLength="10.65" lengthAdjust="spacingAndGlyphs">100</text>
<text x="351.90" y="308.80" font-size="6.4" text-anchor="middle" stroke="#444444" stroke-width="0.15" textLength="3.55" lengthAdjust="spacingAndGlyphs">0</text>
<text x="379.40" y="308.80" font-size="6.4" text-anchor="middle" stroke="#444444" stroke-width="0.15" textLength="10.65" lengthAdjust="spacingAndGlyphs">500</text>
<text x="406.90" y="308.80" font-size="6.4" text-anchor="middle" stroke="#444444" stroke-width="0.15" textLength="14.20" lengthAdjust="spacingAndGlyphs">1000</text>
<text x="434.40" y="308.80" font-size="6.4" text-anchor="middle" stroke="#444444" stroke-width="0.15" textLength="14.20" lengthAdjust="spacingAndGlyphs">1500</text>
<text x="461.90" y="308.80" font-size="6.4" text-anchor="middle" stroke="#444444" stroke-width="0.15" textLength="14.20" lengthAdjust="spacingAndGlyphs">2000</text>
<text x="489.40" y="308.80" font-size="6.4" text-anchor="middle" stroke="#444444" stroke-width="0.15" textLength="14.20" lengthAdjust="spacingAndGlyphs">2500</text>
<text transform="translate(330.50,249.70) rotate(-90)" x="0" y="0" font-size="9.2" text-anchor="middle" textLength="57.00" lengthAdjust="spacingAndGlyphs">Overall survival (%)</text>
<path d="M352.60,206.90H353.80V208.70H354.70V212.70H355.50V217.30H356.10V221.00H358.60V226.50H359.60V231.10H360.80V235.80H362.00V239.80H363.20V243.30H364.80V246.10H366.20V248.40H367.00V250.90H372.40V253.20H388.60V255.60H400.20V257.90H477.50V257.90" fill="none" stroke="#b3143e" stroke-width="1.3" stroke-linejoin="miter"/>
<line x1="376.50" y1="253.20" x2="376.50" y2="251.20" stroke="#b3143e" stroke-width="0.8"/>
<line x1="378.90" y1="253.20" x2="378.90" y2="251.20" stroke="#b3143e" stroke-width="0.8"/>
<line x1="402.00" y1="257.90" x2="402.00" y2="255.90" stroke="#b3143e" stroke-width="0.8"/>
<line x1="405.40" y1="257.90" x2="405.40" y2="255.90" stroke="#b3143e" stroke-width="0.8"/>
<line x1="412.30" y1="257.90" x2="412.30" y2="255.90" stroke="#b3143e" stroke-width="0.8"/>
<line x1="434.30" y1="257.90" x2="434.30" y2="255.90" stroke="#b3143e" stroke-width="0.8"/>
<line x1="436.60" y1="257.90" x2="436.60" y2="255.90" stroke="#b3143e" stroke-width="0.8"/>
<line x1="443.50" y1="257.90" x2="443.50" y2="255.90" stroke="#b3143e" stroke-width="0.8"/>
<line x1="453.90" y1="257.90" x2="453.90" y2="255.90" stroke="#b3143e" stroke-width="0.8"/>
<line x1="477.30" y1="257.90" x2="477.30" y2="255.90" stroke="#b3143e" stroke-width="0.8"/>
<path d="M352.60,206.90H352.70V208.05H352.80V209.20H352.90V210.35H353.00V211.50H353.10V212.65H353.20V213.80H353.31V214.96H353.42V216.12H353.53V217.28H353.64V218.44H353.75V219.60H353.86V220.76H353.97V221.92H354.08V223.08H354.19V224.24H354.30V225.40H354.45V226.55H354.60V227.70H354.75V228.85H354.90V230.00H355.05V231.15H355.20V232.30H355.35V233.45H355.50V234.60H355.59V235.66H355.67V236.71H355.76V237.77H355.84V238.83H355.93V239.89H356.01V240.94H356.10V242.00H356.19V243.14H356.27V244.29H356.36V245.43H356.44V246.57H356.53V247.71H356.61V248.86H356.70V250.00H356.74V251.15H356.77V252.30H356.81V253.45H356.85V254.60H356.89V255.75H356.93V256.90H356.96V258.05H357.00V259.20H357.14V260.36H357.27V261.52H357.41V262.69H357.55V263.85H357.69V265.01H357.83V266.18H357.96V267.34H358.10V268.50H358.45V269.65H358.80V270.80H359.15V271.95H359.50V273.10H359.86V274.24H360.22V275.38H360.58V276.52H360.94V277.66H361.30V278.80H361.80V279.77H362.30V280.73H362.80V281.70H363.43V281.85H364.05V282.00H364.68V282.15H365.30V282.30H366.00V282.52H366.70V282.74H367.40V282.96H368.10V283.18H368.80V283.40H369.38V283.65H369.95V283.90H370.53V284.15H371.10V284.40H371.76V284.51H372.41V284.63H373.07V284.74H373.73V284.86H374.39V284.97H375.04V285.09H375.70V285.20H376.39V285.24H377.09V285.28H377.78V285.32H378.47V285.36H379.17V285.40H379.86V285.44H380.55V285.48H381.25V285.52H381.94V285.56H382.63V285.60H383.33V285.64H384.02V285.68H384.71V285.72H385.41V285.76H386.10V285.80H386.65V286.50H387.20V287.20H391.80V287.20H392.10V288.20H392.40V289.20H435.50V289.20" fill="none" stroke="#1c3f6a" stroke-width="1.3" stroke-linejoin="miter"/>
<line x1="378.90" y1="285.36" x2="378.90" y2="283.76" stroke="#1c3f6a" stroke-width="0.8"/>
<line x1="382.30" y1="285.56" x2="382.30" y2="283.96" stroke="#1c3f6a" stroke-width="0.8"/>
<line x1="383.50" y1="285.64" x2="383.50" y2="284.04" stroke="#1c3f6a" stroke-width="0.8"/>
<line x1="397.30" y1="289.20" x2="397.30" y2="287.60" stroke="#1c3f6a" stroke-width="0.8"/>
<line x1="407.70" y1="289.20" x2="407.70" y2="287.60" stroke="#1c3f6a" stroke-width="0.8"/>
<line x1="435.30" y1="289.20" x2="435.30" y2="287.60" stroke="#1c3f6a" stroke-width="0.8"/>
<text x="369.30" y="245.24" font-size="6.5" stroke="#444444" stroke-width="0.15" textLength="133.20" lengthAdjust="spacingAndGlyphs">EBV DNA ≤ 575 copies/ml, 3-year OS = 42.9%</text>
<text x="372.00" y="282.24" font-size="6.5" stroke="#444444" stroke-width="0.15" textLength="129.80" lengthAdjust="spacingAndGlyphs">EBV DNA &gt; 575 copies/ml, 3-year OS = 8.2%</text>
<text x="485.80" y="294.70" font-size="6.4" text-anchor="end" stroke="#444444" stroke-width="0.15" textLength="23.00" lengthAdjust="spacingAndGlyphs"><tspan font-style="italic">P</tspan> &lt; .001</text>
<text x="422.00" y="320.96" font-size="8.6" text-anchor="middle" stroke="#444444" stroke-width="0.15" textLength="34.00" lengthAdjust="spacingAndGlyphs">Time (days)</text>
<text x="421.80" y="331.54" font-size="6.8" text-anchor="middle" stroke="#444444" stroke-width="0.15" textLength="42.20" lengthAdjust="spacingAndGlyphs">Patients at risk</text>
<text x="343.80" y="341.54" font-size="6.5" text-anchor="end" fill="#bf3653" stroke="#bf3653" stroke-width="0.15" textLength="75.70" lengthAdjust="spacingAndGlyphs">EBV DNA ≤ 575 copies/ml</text>
<text x="343.80" y="351.64" font-size="6.5" text-anchor="end" fill="#2d5f88" stroke="#2d5f88" stroke-width="0.15" textLength="75.70" lengthAdjust="spacingAndGlyphs">EBV DNA &gt; 575 copies/ml</text>
<text x="351.90" y="341.47" font-size="6.3" text-anchor="middle" fill="#bf3653" stroke="#bf3653" stroke-width="0.15" textLength="6.80" lengthAdjust="spacingAndGlyphs">62</text>
<text x="379.40" y="341.47" font-size="6.3" text-anchor="middle" fill="#bf3653" stroke="#bf3653" stroke-width="0.15" textLength="6.80" lengthAdjust="spacingAndGlyphs">18</text>
<text x="406.90" y="341.47" font-size="6.3" text-anchor="middle" fill="#bf3653" stroke="#bf3653" stroke-width="0.15" textLength="6.80" lengthAdjust="spacingAndGlyphs">12</text>
<text x="434.40" y="341.47" font-size="6.3" text-anchor="middle" fill="#bf3653" stroke="#bf3653" stroke-width="0.15" textLength="3.40" lengthAdjust="spacingAndGlyphs">9</text>
<text x="461.90" y="341.47" font-size="6.3" text-anchor="middle" fill="#bf3653" stroke="#bf3653" stroke-width="0.15" textLength="3.40" lengthAdjust="spacingAndGlyphs">1</text>
<text x="489.40" y="341.47" font-size="6.3" text-anchor="middle" fill="#bf3653" stroke="#bf3653" stroke-width="0.15" textLength="3.40" lengthAdjust="spacingAndGlyphs">0</text>
<text x="351.90" y="351.57" font-size="6.3" text-anchor="middle" fill="#2d5f88" stroke="#2d5f88" stroke-width="0.15" textLength="6.80" lengthAdjust="spacingAndGlyphs">99</text>
<text x="379.40" y="351.57" font-size="6.3" text-anchor="middle" fill="#2d5f88" stroke="#2d5f88" stroke-width="0.15" textLength="3.40" lengthAdjust="spacingAndGlyphs">8</text>
<text x="406.90" y="351.57" font-size="6.3" text-anchor="middle" fill="#2d5f88" stroke="#2d5f88" stroke-width="0.15" textLength="3.40" lengthAdjust="spacingAndGlyphs">2</text>
<text x="434.40" y="351.57" font-size="6.3" text-anchor="middle" fill="#2d5f88" stroke="#2d5f88" stroke-width="0.15" textLength="3.40" lengthAdjust="spacingAndGlyphs">1</text>
<text x="461.90" y="351.57" font-size="6.3" text-anchor="middle" fill="#2d5f88" stroke="#2d5f88" stroke-width="0.15" textLength="3.40" lengthAdjust="spacingAndGlyphs">0</text>
<text x="489.40" y="351.57" font-size="6.3" text-anchor="middle" fill="#2d5f88" stroke="#2d5f88" stroke-width="0.15" textLength="3.40" lengthAdjust="spacingAndGlyphs">0</text>
<text x="17.50" y="377.66" font-size="11.5" fill="#000" font-weight="bold" stroke="#000" stroke-width="0.25">E</text>
<line x1="96.50" y1="384.10" x2="96.50" y2="475.70" stroke="#1a1a1a" stroke-width="1.3"/>
<line x1="93.70" y1="475.20" x2="236.30" y2="475.20" stroke="#1a1a1a" stroke-width="1.1"/>
<line x1="93.70" y1="475.20" x2="96.50" y2="475.20" stroke="#1a1a1a" stroke-width="0.9"/>
<line x1="93.70" y1="433.70" x2="96.50" y2="433.70" stroke="#1a1a1a" stroke-width="0.9"/>
<line x1="93.70" y1="392.20" x2="96.50" y2="392.20" stroke="#1a1a1a" stroke-width="0.9"/>
<line x1="94.55" y1="471.05" x2="96.50" y2="471.05" stroke="#1a1a1a" stroke-width="0.8"/>
<line x1="94.55" y1="466.90" x2="96.50" y2="466.90" stroke="#1a1a1a" stroke-width="0.8"/>
<line x1="94.55" y1="462.75" x2="96.50" y2="462.75" stroke="#1a1a1a" stroke-width="0.8"/>
<line x1="94.55" y1="458.60" x2="96.50" y2="458.60" stroke="#1a1a1a" stroke-width="0.8"/>
<line x1="94.55" y1="454.45" x2="96.50" y2="454.45" stroke="#1a1a1a" stroke-width="0.8"/>
<line x1="94.55" y1="450.30" x2="96.50" y2="450.30" stroke="#1a1a1a" stroke-width="0.8"/>
<line x1="94.55" y1="446.15" x2="96.50" y2="446.15" stroke="#1a1a1a" stroke-width="0.8"/>
<line x1="94.55" y1="442.00" x2="96.50" y2="442.00" stroke="#1a1a1a" stroke-width="0.8"/>
<line x1="94.55" y1="437.85" x2="96.50" y2="437.85" stroke="#1a1a1a" stroke-width="0.8"/>
<line x1="94.55" y1="429.55" x2="96.50" y2="429.55" stroke="#1a1a1a" stroke-width="0.8"/>
<line x1="94.55" y1="425.40" x2="96.50" y2="425.40" stroke="#1a1a1a" stroke-width="0.8"/>
<line x1="94.55" y1="421.25" x2="96.50" y2="421.25" stroke="#1a1a1a" stroke-width="0.8"/>
<line x1="94.55" y1="417.10" x2="96.50" y2="417.10" stroke="#1a1a1a" stroke-width="0.8"/>
<line x1="94.55" y1="412.95" x2="96.50" y2="412.95" stroke="#1a1a1a" stroke-width="0.8"/>
<line x1="94.55" y1="408.80" x2="96.50" y2="408.80" stroke="#1a1a1a" stroke-width="0.8"/>
<line x1="94.55" y1="404.65" x2="96.50" y2="404.65" stroke="#1a1a1a" stroke-width="0.8"/>
<line x1="94.55" y1="400.50" x2="96.50" y2="400.50" stroke="#1a1a1a" stroke-width="0.8"/>
<line x1="94.55" y1="396.35" x2="96.50" y2="396.35" stroke="#1a1a1a" stroke-width="0.8"/>
<line x1="94.55" y1="388.05" x2="96.50" y2="388.05" stroke="#1a1a1a" stroke-width="0.8"/>
<line x1="96.50" y1="475.20" x2="96.50" y2="477.80" stroke="#1a1a1a" stroke-width="0.9"/>
<line x1="116.20" y1="475.20" x2="116.20" y2="477.80" stroke="#1a1a1a" stroke-width="0.9"/>
<line x1="135.90" y1="475.20" x2="135.90" y2="477.80" stroke="#1a1a1a" stroke-width="0.9"/>
<line x1="155.60" y1="475.20" x2="155.60" y2="477.80" stroke="#1a1a1a" stroke-width="0.9"/>
<line x1="175.30" y1="475.20" x2="175.30" y2="477.80" stroke="#1a1a1a" stroke-width="0.9"/>
<line x1="195.00" y1="475.20" x2="195.00" y2="477.80" stroke="#1a1a1a" stroke-width="0.9"/>
<line x1="214.70" y1="475.20" x2="214.70" y2="477.80" stroke="#1a1a1a" stroke-width="0.9"/>
<line x1="234.40" y1="475.20" x2="234.40" y2="477.80" stroke="#1a1a1a" stroke-width="0.9"/>
<text x="90.00" y="477.40" font-size="6.4" text-anchor="end" stroke="#444444" stroke-width="0.15" textLength="3.17" lengthAdjust="spacingAndGlyphs">0</text>
<text x="90.00" y="435.90" font-size="6.4" text-anchor="end" stroke="#444444" stroke-width="0.15" textLength="6.34" lengthAdjust="spacingAndGlyphs">50</text>
<text x="90.00" y="394.40" font-size="6.4" text-anchor="end" stroke="#444444" stroke-width="0.15" textLength="9.51" lengthAdjust="spacingAndGlyphs">100</text>
<text x="96.50" y="486.50" font-size="6.4" text-anchor="middle" stroke="#444444" stroke-width="0.15" textLength="3.30" lengthAdjust="spacingAndGlyphs">0</text>
<text x="116.20" y="486.50" font-size="6.4" text-anchor="middle" stroke="#444444" stroke-width="0.15" textLength="9.90" lengthAdjust="spacingAndGlyphs">500</text>
<text x="135.90" y="486.50" font-size="6.4" text-anchor="middle" stroke="#444444" stroke-width="0.15" textLength="13.20" lengthAdjust="spacingAndGlyphs">1000</text>
<text x="155.60" y="486.50" font-size="6.4" text-anchor="middle" stroke="#444444" stroke-width="0.15" textLength="13.20" lengthAdjust="spacingAndGlyphs">1500</text>
<text x="175.30" y="486.50" font-size="6.4" text-anchor="middle" stroke="#444444" stroke-width="0.15" textLength="13.20" lengthAdjust="spacingAndGlyphs">2000</text>
<text x="195.00" y="486.50" font-size="6.4" text-anchor="middle" stroke="#444444" stroke-width="0.15" textLength="13.20" lengthAdjust="spacingAndGlyphs">2500</text>
<text x="214.70" y="486.50" font-size="6.4" text-anchor="middle" stroke="#444444" stroke-width="0.15" textLength="13.20" lengthAdjust="spacingAndGlyphs">3000</text>
<text x="234.40" y="486.50" font-size="6.4" text-anchor="middle" stroke="#444444" stroke-width="0.15" textLength="13.20" lengthAdjust="spacingAndGlyphs">3500</text>
<text transform="translate(75.00,429.40) rotate(-90)" x="0" y="0" font-size="9.2" text-anchor="middle" textLength="57.30" lengthAdjust="spacingAndGlyphs">Overall survival (%)</text>
<path d="M96.60,392.20H101.00V392.20H101.30V393.27H101.60V394.35H101.90V395.43H102.20V396.50H102.31V397.66H102.43V398.81H102.54V399.97H102.66V401.13H102.77V402.29H102.89V403.44H103.00V404.60H103.37V405.77H103.73V406.93H104.10V408.10H104.50V409.23H104.90V410.37H105.30V411.50H105.67V412.67H106.03V413.83H106.40V415.00H106.80V416.13H107.20V417.27H107.60V418.40H107.97V419.37H108.33V420.33H108.70V421.30H109.30V422.07H109.90V422.83H110.50V423.60H111.20V424.05H111.90V424.50H112.60V424.95H113.30V425.40H113.88V425.62H114.46V425.84H115.04V426.06H115.62V426.28H116.20V426.50H116.90V426.78H117.60V427.06H118.30V427.34H119.00V427.62H119.70V427.90H120.36V428.03H121.01V428.16H121.67V428.29H122.33V428.41H122.99V428.54H123.64V428.67H124.30V428.80H124.96V428.89H125.61V428.97H126.27V429.06H126.93V429.14H127.59V429.23H128.24V429.31H128.90V429.40H129.48V429.64H130.06V429.88H130.64V430.12H131.22V430.36H131.80V430.60H132.47V430.78H133.13V430.97H133.80V431.15H134.47V431.33H135.13V431.52H135.80V431.70H136.50V432.04H137.20V432.38H137.90V432.72H138.60V433.06H139.30V433.40H139.88V433.65H140.45V433.90H141.03V434.15H141.60V434.40H200.50V434.40" fill="none" stroke="#b3143e" stroke-width="1.3" stroke-linejoin="miter"/>
<line x1="141.60" y1="434.40" x2="141.60" y2="432.40" stroke="#b3143e" stroke-width="0.8"/>
<line x1="144.00" y1="434.40" x2="144.00" y2="432.40" stroke="#b3143e" stroke-width="0.8"/>
<line x1="146.50" y1="434.40" x2="146.50" y2="432.40" stroke="#b3143e" stroke-width="0.8"/>
<line x1="149.00" y1="434.40" x2="149.00" y2="432.40" stroke="#b3143e" stroke-width="0.8"/>
<line x1="151.40" y1="434.40" x2="151.40" y2="432.40" stroke="#b3143e" stroke-width="0.8"/>
<line x1="153.90" y1="434.40" x2="153.90" y2="432.40" stroke="#b3143e" stroke-width="0.8"/>
<line x1="157.10" y1="434.40" x2="157.10" y2="432.40" stroke="#b3143e" stroke-width="0.8"/>
<line x1="159.60" y1="434.40" x2="159.60" y2="432.40" stroke="#b3143e" stroke-width="0.8"/>
<line x1="162.90" y1="434.40" x2="162.90" y2="432.40" stroke="#b3143e" stroke-width="0.8"/>
<line x1="167.80" y1="434.40" x2="167.80" y2="432.40" stroke="#b3143e" stroke-width="0.8"/>
<line x1="174.30" y1="434.40" x2="174.30" y2="432.40" stroke="#b3143e" stroke-width="0.8"/>
<line x1="179.30" y1="434.40" x2="179.30" y2="432.40" stroke="#b3143e" stroke-width="0.8"/>
<line x1="184.20" y1="434.40" x2="184.20" y2="432.40" stroke="#b3143e" stroke-width="0.8"/>
<line x1="189.10" y1="434.40" x2="189.10" y2="432.40" stroke="#b3143e" stroke-width="0.8"/>
<line x1="197.30" y1="434.40" x2="197.30" y2="432.40" stroke="#b3143e" stroke-width="0.8"/>
<line x1="200.30" y1="434.40" x2="200.30" y2="432.40" stroke="#b3143e" stroke-width="0.8"/>
<path d="M96.60,392.20H96.67V393.32H96.73V394.44H96.80V395.57H96.87V396.69H96.93V397.81H97.00V398.93H97.07V400.06H97.13V401.18H97.20V402.30H97.31V403.45H97.42V404.60H97.53V405.75H97.64V406.90H97.75V408.05H97.86V409.20H97.97V410.35H98.08V411.50H98.19V412.65H98.30V413.80H98.43V414.96H98.57V416.11H98.70V417.27H98.83V418.42H98.97V419.58H99.10V420.73H99.23V421.89H99.37V423.04H99.50V424.20H99.58V425.35H99.65V426.51H99.73V427.66H99.81V428.82H99.88V429.97H99.96V431.12H100.04V432.28H100.12V433.43H100.19V434.58H100.27V435.74H100.35V436.89H100.42V438.05H100.50V439.20H100.75V440.23H101.00V441.27H101.25V442.30H101.50V443.33H101.75V444.37H102.00V445.40H102.58V446.55H103.15V447.70H103.72V448.85H104.30V450.00H104.92V450.62H105.54V451.24H106.16V451.86H106.78V452.48H107.40V453.10H108.06V453.31H108.71V453.53H109.37V453.74H110.03V453.96H110.69V454.17H111.34V454.39H112.00V454.60H112.69V454.73H113.38V454.87H114.07V455.00H114.76V455.13H115.44V455.27H116.13V455.40H116.82V455.53H117.51V455.67H118.20V455.80H118.88V455.92H119.56V456.04H120.23V456.17H120.91V456.29H121.59V456.41H122.27V456.53H122.94V456.66H123.62V456.78H124.30V456.90H124.94V457.01H125.58V457.12H126.22V457.22H126.87V457.33H127.51V457.44H128.15V457.55H128.79V457.66H129.43V457.77H130.07V457.88H130.72V457.98H131.36V458.09H132.00V458.20H132.68V458.22H133.35V458.24H134.03V458.26H134.70V458.27H135.38V458.29H136.05V458.31H136.72V458.33H137.40V458.35H138.08V458.37H138.75V458.39H139.43V458.41H140.10V458.43H140.78V458.44H141.45V458.46H142.12V458.48H142.80V458.50H155.10V458.50H155.76V458.64H156.41V458.79H157.07V458.93H157.73V459.07H158.39V459.21H159.04V459.36H159.70V459.50H160.27V459.88H160.85V460.25H161.43V460.62H162.00V461.00H216.25V461.00" fill="none" stroke="#1c3f6a" stroke-width="1.3" stroke-linejoin="miter"/>
<line x1="112.00" y1="454.60" x2="112.00" y2="453.00" stroke="#1c3f6a" stroke-width="0.8"/>
<line x1="118.00" y1="455.67" x2="118.00" y2="454.07" stroke="#1c3f6a" stroke-width="0.8"/>
<line x1="124.00" y1="456.78" x2="124.00" y2="455.18" stroke="#1c3f6a" stroke-width="0.8"/>
<line x1="131.00" y1="457.98" x2="131.00" y2="456.38" stroke="#1c3f6a" stroke-width="0.8"/>
<line x1="138.30" y1="458.37" x2="138.30" y2="456.77" stroke="#1c3f6a" stroke-width="0.8"/>
<line x1="144.80" y1="458.50" x2="144.80" y2="456.90" stroke="#1c3f6a" stroke-width="0.8"/>
<line x1="151.40" y1="458.50" x2="151.40" y2="456.90" stroke="#1c3f6a" stroke-width="0.8"/>
<line x1="158.00" y1="459.07" x2="158.00" y2="457.47" stroke="#1c3f6a" stroke-width="0.8"/>
<line x1="167.80" y1="461.00" x2="167.80" y2="459.40" stroke="#1c3f6a" stroke-width="0.8"/>
<line x1="176.80" y1="461.00" x2="176.80" y2="459.40" stroke="#1c3f6a" stroke-width="0.8"/>
<line x1="180.10" y1="461.00" x2="180.10" y2="459.40" stroke="#1c3f6a" stroke-width="0.8"/>
<line x1="187.50" y1="461.00" x2="187.50" y2="459.40" stroke="#1c3f6a" stroke-width="0.8"/>
<line x1="197.30" y1="461.00" x2="197.30" y2="459.40" stroke="#1c3f6a" stroke-width="0.8"/>
<line x1="205.50" y1="461.00" x2="205.50" y2="459.40" stroke="#1c3f6a" stroke-width="0.8"/>
<line x1="207.10" y1="461.00" x2="207.10" y2="459.40" stroke="#1c3f6a" stroke-width="0.8"/>
<line x1="216.00" y1="461.00" x2="216.00" y2="459.40" stroke="#1c3f6a" stroke-width="0.8"/>
<text x="132.50" y="428.04" font-size="6.5" stroke="#444444" stroke-width="0.15" textLength="73.80" lengthAdjust="spacingAndGlyphs">HSCT, 5-year OS = 48.7%</text>
<text x="118.00" y="453.74" font-size="6.5" stroke="#444444" stroke-width="0.15" textLength="86.50" lengthAdjust="spacingAndGlyphs">non-HSCT, 5-year OS = 16.2%</text>
<text x="231.30" y="472.20" font-size="6.4" text-anchor="end" stroke="#444444" stroke-width="0.15" textLength="23.00" lengthAdjust="spacingAndGlyphs">P &lt; .001</text>
<text x="167.30" y="498.76" font-size="8.6" text-anchor="middle" stroke="#444444" stroke-width="0.15" textLength="34.00" lengthAdjust="spacingAndGlyphs">Time (days)</text>
<text x="167.00" y="509.14" font-size="6.8" text-anchor="middle" stroke="#444444" stroke-width="0.15" textLength="42.20" lengthAdjust="spacingAndGlyphs">Patients at risk</text>
<text x="50.00" y="519.04" font-size="6.5" fill="#bf3653" stroke="#bf3653" stroke-width="0.15" textLength="17.50" lengthAdjust="spacingAndGlyphs">HSCT</text>
<text x="50.00" y="529.24" font-size="6.5" fill="#2d5f88" stroke="#2d5f88" stroke-width="0.15" textLength="29.50" lengthAdjust="spacingAndGlyphs">non-HSCT</text>
<text x="96.50" y="518.97" font-size="6.3" text-anchor="middle" fill="#bf3653" stroke="#bf3653" stroke-width="0.15" textLength="6.80" lengthAdjust="spacingAndGlyphs">92</text>
<text x="116.20" y="518.97" font-size="6.3" text-anchor="middle" fill="#bf3653" stroke="#bf3653" stroke-width="0.15" textLength="6.80" lengthAdjust="spacingAndGlyphs">49</text>
<text x="135.90" y="518.97" font-size="6.3" text-anchor="middle" fill="#bf3653" stroke="#bf3653" stroke-width="0.15" textLength="6.80" lengthAdjust="spacingAndGlyphs">27</text>
<text x="155.60" y="518.97" font-size="6.3" text-anchor="middle" fill="#bf3653" stroke="#bf3653" stroke-width="0.15" textLength="6.80" lengthAdjust="spacingAndGlyphs">14</text>
<text x="175.30" y="518.97" font-size="6.3" text-anchor="middle" fill="#bf3653" stroke="#bf3653" stroke-width="0.15" textLength="3.40" lengthAdjust="spacingAndGlyphs">6</text>
<text x="195.00" y="518.97" font-size="6.3" text-anchor="middle" fill="#bf3653" stroke="#bf3653" stroke-width="0.15" textLength="3.40" lengthAdjust="spacingAndGlyphs">3</text>
<text x="214.70" y="518.97" font-size="6.3" text-anchor="middle" fill="#bf3653" stroke="#bf3653" stroke-width="0.15" textLength="3.40" lengthAdjust="spacingAndGlyphs">0</text>
<text x="234.40" y="518.97" font-size="6.3" text-anchor="middle" fill="#bf3653" stroke="#bf3653" stroke-width="0.15" textLength="3.40" lengthAdjust="spacingAndGlyphs">0</text>
<text x="96.50" y="529.17" font-size="6.3" text-anchor="middle" fill="#2d5f88" stroke="#2d5f88" stroke-width="0.15" textLength="10.20" lengthAdjust="spacingAndGlyphs">264</text>
<text x="116.20" y="529.17" font-size="6.3" text-anchor="middle" fill="#2d5f88" stroke="#2d5f88" stroke-width="0.15" textLength="6.80" lengthAdjust="spacingAndGlyphs">34</text>
<text x="135.90" y="529.17" font-size="6.3" text-anchor="middle" fill="#2d5f88" stroke="#2d5f88" stroke-width="0.15" textLength="6.80" lengthAdjust="spacingAndGlyphs">22</text>
<text x="155.60" y="529.17" font-size="6.3" text-anchor="middle" fill="#2d5f88" stroke="#2d5f88" stroke-width="0.15" textLength="6.80" lengthAdjust="spacingAndGlyphs">17</text>
<text x="175.30" y="529.17" font-size="6.3" text-anchor="middle" fill="#2d5f88" stroke="#2d5f88" stroke-width="0.15" textLength="3.40" lengthAdjust="spacingAndGlyphs">6</text>
<text x="195.00" y="529.17" font-size="6.3" text-anchor="middle" fill="#2d5f88" stroke="#2d5f88" stroke-width="0.15" textLength="3.40" lengthAdjust="spacingAndGlyphs">3</text>
<text x="214.70" y="529.17" font-size="6.3" text-anchor="middle" fill="#2d5f88" stroke="#2d5f88" stroke-width="0.15" textLength="3.40" lengthAdjust="spacingAndGlyphs">1</text>
<text x="234.40" y="529.17" font-size="6.3" text-anchor="middle" fill="#2d5f88" stroke="#2d5f88" stroke-width="0.15" textLength="3.40" lengthAdjust="spacingAndGlyphs">0</text>
<text x="257.50" y="377.76" font-size="11.5" fill="#000" font-weight="bold" stroke="#000" stroke-width="0.25">F</text>
<line x1="351.90" y1="384.10" x2="351.90" y2="475.70" stroke="#666" stroke-width="1.7"/>
<line x1="348.70" y1="475.20" x2="491.20" y2="475.20" stroke="#1a1a1a" stroke-width="1.3"/>
<line x1="348.70" y1="475.20" x2="351.90" y2="475.20" stroke="#1a1a1a" stroke-width="0.9"/>
<line x1="348.70" y1="433.70" x2="351.90" y2="433.70" stroke="#1a1a1a" stroke-width="0.9"/>
<line x1="348.70" y1="392.20" x2="351.90" y2="392.20" stroke="#1a1a1a" stroke-width="0.9"/>
<line x1="349.75" y1="471.05" x2="351.90" y2="471.05" stroke="#1a1a1a" stroke-width="0.8"/>
<line x1="349.75" y1="466.90" x2="351.90" y2="466.90" stroke="#1a1a1a" stroke-width="0.8"/>
<line x1="349.75" y1="462.75" x2="351.90" y2="462.75" stroke="#1a1a1a" stroke-width="0.8"/>
<line x1="349.75" y1="458.60" x2="351.90" y2="458.60" stroke="#1a1a1a" stroke-width="0.8"/>
<line x1="349.75" y1="454.45" x2="351.90" y2="454.45" stroke="#1a1a1a" stroke-width="0.8"/>
<line x1="349.75" y1="450.30" x2="351.90" y2="450.30" stroke="#1a1a1a" stroke-width="0.8"/>
<line x1="349.75" y1="446.15" x2="351.90" y2="446.15" stroke="#1a1a1a" stroke-width="0.8"/>
<line x1="349.75" y1="442.00" x2="351.90" y2="442.00" stroke="#1a1a1a" stroke-width="0.8"/>
<line x1="349.75" y1="437.85" x2="351.90" y2="437.85" stroke="#1a1a1a" stroke-width="0.8"/>
<line x1="349.75" y1="429.55" x2="351.90" y2="429.55" stroke="#1a1a1a" stroke-width="0.8"/>
<line x1="349.75" y1="425.40" x2="351.90" y2="425.40" stroke="#1a1a1a" stroke-width="0.8"/>
<line x1="349.75" y1="421.25" x2="351.90" y2="421.25" stroke="#1a1a1a" stroke-width="0.8"/>
<line x1="349.75" y1="417.10" x2="351.90" y2="417.10" stroke="#1a1a1a" stroke-width="0.8"/>
<line x1="349.75" y1="412.95" x2="351.90" y2="412.95" stroke="#1a1a1a" stroke-width="0.8"/>
<line x1="349.75" y1="408.80" x2="351.90" y2="408.80" stroke="#1a1a1a" stroke-width="0.8"/>
<line x1="349.75" y1="404.65" x2="351.90" y2="404.65" stroke="#1a1a1a" stroke-width="0.8"/>
<line x1="349.75" y1="400.50" x2="351.90" y2="400.50" stroke="#1a1a1a" stroke-width="0.8"/>
<line x1="349.75" y1="396.35" x2="351.90" y2="396.35" stroke="#1a1a1a" stroke-width="0.8"/>
<line x1="349.75" y1="388.05" x2="351.90" y2="388.05" stroke="#1a1a1a" stroke-width="0.8"/>
<line x1="351.90" y1="475.20" x2="351.90" y2="477.80" stroke="#1a1a1a" stroke-width="0.9"/>
<line x1="379.28" y1="475.20" x2="379.28" y2="477.80" stroke="#1a1a1a" stroke-width="0.9"/>
<line x1="406.66" y1="475.20" x2="406.66" y2="477.80" stroke="#1a1a1a" stroke-width="0.9"/>
<line x1="434.04" y1="475.20" x2="434.04" y2="477.80" stroke="#1a1a1a" stroke-width="0.9"/>
<line x1="461.42" y1="475.20" x2="461.42" y2="477.80" stroke="#1a1a1a" stroke-width="0.9"/>
<line x1="488.80" y1="475.20" x2="488.80" y2="477.80" stroke="#1a1a1a" stroke-width="0.9"/>
<text x="346.60" y="477.40" font-size="6.4" text-anchor="end" stroke="#444444" stroke-width="0.15" textLength="3.55" lengthAdjust="spacingAndGlyphs">0</text>
<text x="346.60" y="435.90" font-size="6.4" text-anchor="end" stroke="#444444" stroke-width="0.15" textLength="7.10" lengthAdjust="spacingAndGlyphs">50</text>
<text x="346.60" y="394.40" font-size="6.4" text-anchor="end" stroke="#444444" stroke-width="0.15" textLength="10.65" lengthAdjust="spacingAndGlyphs">100</text>
<text x="351.90" y="486.50" font-size="6.4" text-anchor="middle" stroke="#444444" stroke-width="0.15" textLength="3.55" lengthAdjust="spacingAndGlyphs">0</text>
<text x="379.28" y="486.50" font-size="6.4" text-anchor="middle" stroke="#444444" stroke-width="0.15" textLength="10.65" lengthAdjust="spacingAndGlyphs">500</text>
<text x="406.66" y="486.50" font-size="6.4" text-anchor="middle" stroke="#444444" stroke-width="0.15" textLength="14.20" lengthAdjust="spacingAndGlyphs">1000</text>
<text x="434.04" y="486.50" font-size="6.4" text-anchor="middle" stroke="#444444" stroke-width="0.15" textLength="14.20" lengthAdjust="spacingAndGlyphs">1500</text>
<text x="461.42" y="486.50" font-size="6.4" text-anchor="middle" stroke="#444444" stroke-width="0.15" textLength="14.20" lengthAdjust="spacingAndGlyphs">2000</text>
<text x="488.80" y="486.50" font-size="6.4" text-anchor="middle" stroke="#444444" stroke-width="0.15" textLength="14.20" lengthAdjust="spacingAndGlyphs">2500</text>
<text transform="translate(330.00,429.40) rotate(-90)" x="0" y="0" font-size="9.2" text-anchor="middle" textLength="57.30" lengthAdjust="spacingAndGlyphs">Overall survival (%)</text>
<path d="M352.00,392.40H355.80V400.50H358.10V417.30H372.90V426.70H459.25V426.70" fill="none" stroke="#b3143e" stroke-width="1.3" stroke-linejoin="miter"/>
<line x1="362.00" y1="417.30" x2="362.00" y2="415.30" stroke="#b3143e" stroke-width="0.8"/>
<line x1="366.00" y1="417.30" x2="366.00" y2="415.30" stroke="#b3143e" stroke-width="0.8"/>
<line x1="387.00" y1="426.70" x2="387.00" y2="424.70" stroke="#b3143e" stroke-width="0.8"/>
<line x1="394.00" y1="426.70" x2="394.00" y2="424.70" stroke="#b3143e" stroke-width="0.8"/>
<line x1="401.00" y1="426.70" x2="401.00" y2="424.70" stroke="#b3143e" stroke-width="0.8"/>
<line x1="412.50" y1="426.70" x2="412.50" y2="424.70" stroke="#b3143e" stroke-width="0.8"/>
<line x1="436.00" y1="426.70" x2="436.00" y2="424.70" stroke="#b3143e" stroke-width="0.8"/>
<line x1="458.80" y1="426.70" x2="458.80" y2="424.70" stroke="#b3143e" stroke-width="0.8"/>
<path d="M352.00,392.40H353.40V392.40H354.05V392.75H354.70V393.10H354.92V394.18H355.14V395.26H355.36V396.34H355.58V397.42H355.80V398.50H355.95V399.62H356.10V400.73H356.25V401.85H356.40V402.97H356.55V404.08H356.70V405.20H356.93V406.32H357.17V407.43H357.40V408.55H357.63V409.67H357.87V410.78H358.10V411.90H358.43V412.92H358.75V413.95H359.07V414.98H359.40V416.00H359.92V416.65H360.45V417.30H360.98V417.95H361.50V418.60H361.70V419.50H361.90V420.40H362.10V421.30H362.80V422.00H363.50V422.70H364.20V423.40H364.85V423.90H365.50V424.40H366.15V424.90H366.80V425.40H367.48V425.72H368.15V426.05H368.82V426.38H369.50V426.70H370.18V426.84H370.85V426.98H371.52V427.11H372.20V427.25H372.88V427.39H373.55V427.52H374.22V427.66H374.90V427.80H375.58V428.02H376.27V428.23H376.95V428.45H377.63V428.67H378.32V428.88H379.00V429.10H379.67V429.38H380.33V429.67H381.00V429.95H381.67V430.23H382.33V430.52H383.00V430.80H383.68V430.95H384.35V431.10H385.02V431.25H385.70V431.40H386.38V431.46H387.05V431.52H387.73V431.57H388.40V431.63H389.07V431.69H389.75V431.75H390.43V431.81H391.10V431.87H391.77V431.93H392.45V431.98H393.12V432.04H393.80V432.10H394.47V432.16H395.15V432.23H395.82V432.29H396.49V432.35H397.16V432.42H397.84V432.48H398.51V432.55H399.18V432.61H399.85V432.67H400.53V432.74H401.20V432.80H401.50V433.45H401.80V434.10H488.00V434.10" fill="none" stroke="#1c3f6a" stroke-width="1.3" stroke-linejoin="miter"/>
<line x1="372.00" y1="427.11" x2="372.00" y2="425.51" stroke="#1c3f6a" stroke-width="0.8"/>
<line x1="376.00" y1="428.02" x2="376.00" y2="426.42" stroke="#1c3f6a" stroke-width="0.8"/>
<line x1="380.00" y1="429.38" x2="380.00" y2="427.78" stroke="#1c3f6a" stroke-width="0.8"/>
<line x1="385.00" y1="431.10" x2="385.00" y2="429.50" stroke="#1c3f6a" stroke-width="0.8"/>
<line x1="389.00" y1="431.63" x2="389.00" y2="430.03" stroke="#1c3f6a" stroke-width="0.8"/>
<line x1="393.00" y1="431.98" x2="393.00" y2="430.38" stroke="#1c3f6a" stroke-width="0.8"/>
<line x1="397.00" y1="432.35" x2="397.00" y2="430.75" stroke="#1c3f6a" stroke-width="0.8"/>
<line x1="404.00" y1="434.10" x2="404.00" y2="432.50" stroke="#1c3f6a" stroke-width="0.8"/>
<line x1="407.00" y1="434.10" x2="407.00" y2="432.50" stroke="#1c3f6a" stroke-width="0.8"/>
<line x1="411.00" y1="434.10" x2="411.00" y2="432.50" stroke="#1c3f6a" stroke-width="0.8"/>
<line x1="415.00" y1="434.10" x2="415.00" y2="432.50" stroke="#1c3f6a" stroke-width="0.8"/>
<line x1="420.00" y1="434.10" x2="420.00" y2="432.50" stroke="#1c3f6a" stroke-width="0.8"/>
<line x1="426.00" y1="434.10" x2="426.00" y2="432.50" stroke="#1c3f6a" stroke-width="0.8"/>
<line x1="440.00" y1="434.10" x2="440.00" y2="432.50" stroke="#1c3f6a" stroke-width="0.8"/>
<line x1="448.00" y1="434.10" x2="448.00" y2="432.50" stroke="#1c3f6a" stroke-width="0.8"/>
<line x1="455.00" y1="434.10" x2="455.00" y2="432.50" stroke="#1c3f6a" stroke-width="0.8"/>
<line x1="462.00" y1="434.10" x2="462.00" y2="432.50" stroke="#1c3f6a" stroke-width="0.8"/>
<line x1="470.00" y1="434.10" x2="470.00" y2="432.50" stroke="#1c3f6a" stroke-width="0.8"/>
<line x1="474.00" y1="434.10" x2="474.00" y2="432.50" stroke="#1c3f6a" stroke-width="0.8"/>
<line x1="482.00" y1="434.10" x2="482.00" y2="432.50" stroke="#1c3f6a" stroke-width="0.8"/>
<line x1="487.60" y1="434.10" x2="487.60" y2="432.50" stroke="#1c3f6a" stroke-width="0.8"/>
<text x="376.30" y="415.04" font-size="6.5" stroke="#444444" stroke-width="0.15" textLength="120.00" lengthAdjust="spacingAndGlyphs">negative conversion of EBV positive T/NK</text>
<text x="376.30" y="422.74" font-size="6.5" stroke="#444444" stroke-width="0.15" textLength="70.00" lengthAdjust="spacingAndGlyphs">cells, 5-year OS = 58.3%</text>
<text x="364.50" y="444.04" font-size="6.5" stroke="#444444" stroke-width="0.15" textLength="139.30" lengthAdjust="spacingAndGlyphs">with EBV positive T/NK cells, 5-year OS = 49.5%</text>
<text x="486.80" y="472.20" font-size="6.4" text-anchor="end" stroke="#444444" stroke-width="0.15" textLength="23.00" lengthAdjust="spacingAndGlyphs"><tspan font-style="italic">P</tspan> = .685</text>
<text x="422.30" y="498.76" font-size="8.6" text-anchor="middle" stroke="#444444" stroke-width="0.15" textLength="34.00" lengthAdjust="spacingAndGlyphs">Time (days)</text>
<text x="422.00" y="509.24" font-size="6.8" text-anchor="middle" stroke="#444444" stroke-width="0.15" textLength="42.20" lengthAdjust="spacingAndGlyphs">Patients at risk</text>
<text x="260.50" y="519.04" font-size="6.5" fill="#bf3653" stroke="#bf3653" stroke-width="0.15" textLength="79.00" lengthAdjust="spacingAndGlyphs">negative conversion of EBV</text>
<text x="260.50" y="526.64" font-size="6.5" fill="#bf3653" stroke="#bf3653" stroke-width="0.15" textLength="55.50" lengthAdjust="spacingAndGlyphs">positive T/NK cells</text>
<text x="260.50" y="536.74" font-size="6.5" fill="#2d5f88" stroke="#2d5f88" stroke-width="0.15" textLength="81.20" lengthAdjust="spacingAndGlyphs">with EBV positive T/NK cells</text>
<text x="351.90" y="518.97" font-size="6.3" text-anchor="middle" fill="#bf3653" stroke="#bf3653" stroke-width="0.15" textLength="6.80" lengthAdjust="spacingAndGlyphs">10</text>
<text x="379.28" y="518.97" font-size="6.3" text-anchor="middle" fill="#bf3653" stroke="#bf3653" stroke-width="0.15" textLength="3.40" lengthAdjust="spacingAndGlyphs">5</text>
<text x="406.66" y="518.97" font-size="6.3" text-anchor="middle" fill="#bf3653" stroke="#bf3653" stroke-width="0.15" textLength="3.40" lengthAdjust="spacingAndGlyphs">2</text>
<text x="434.04" y="518.97" font-size="6.3" text-anchor="middle" fill="#bf3653" stroke="#bf3653" stroke-width="0.15" textLength="3.40" lengthAdjust="spacingAndGlyphs">1</text>
<text x="461.42" y="518.97" font-size="6.3" text-anchor="middle" fill="#bf3653" stroke="#bf3653" stroke-width="0.15" textLength="3.40" lengthAdjust="spacingAndGlyphs">0</text>
<text x="488.80" y="518.97" font-size="6.3" text-anchor="middle" fill="#bf3653" stroke="#bf3653" stroke-width="0.15" textLength="3.40" lengthAdjust="spacingAndGlyphs">0</text>
<text x="351.90" y="536.67" font-size="6.3" text-anchor="middle" fill="#2d5f88" stroke="#2d5f88" stroke-width="0.15" textLength="6.80" lengthAdjust="spacingAndGlyphs">68</text>
<text x="379.28" y="536.67" font-size="6.3" text-anchor="middle" fill="#2d5f88" stroke="#2d5f88" stroke-width="0.15" textLength="6.80" lengthAdjust="spacingAndGlyphs">32</text>
<text x="406.66" y="536.67" font-size="6.3" text-anchor="middle" fill="#2d5f88" stroke="#2d5f88" stroke-width="0.15" textLength="6.80" lengthAdjust="spacingAndGlyphs">17</text>
<text x="434.04" y="536.67" font-size="6.3" text-anchor="middle" fill="#2d5f88" stroke="#2d5f88" stroke-width="0.15" textLength="3.40" lengthAdjust="spacingAndGlyphs">6</text>
<text x="461.42" y="536.67" font-size="6.3" text-anchor="middle" fill="#2d5f88" stroke="#2d5f88" stroke-width="0.15" textLength="3.40" lengthAdjust="spacingAndGlyphs">4</text>
<text x="488.80" y="536.67" font-size="6.3" text-anchor="middle" fill="#2d5f88" stroke="#2d5f88" stroke-width="0.15" textLength="3.40" lengthAdjust="spacingAndGlyphs">0</text>
<rect x="0.5" y="0.5" width="519" height="543" fill="none" stroke="#626262" stroke-width="1"/>
</svg>
</body></html>
